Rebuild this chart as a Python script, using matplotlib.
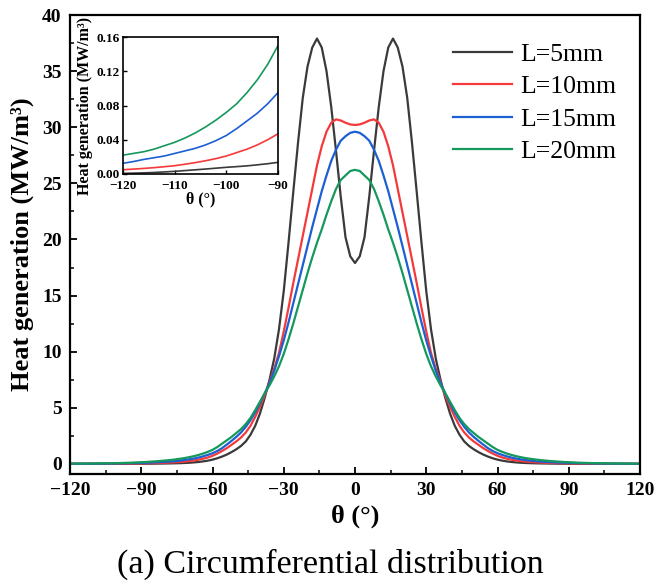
import matplotlib
matplotlib.use("Agg")
import matplotlib.pyplot as plt
from matplotlib.ticker import MultipleLocator, FormatStrFormatter
import numpy as np

plt.rcParams['font.family'] = ['Liberation Serif', 'DejaVu Serif']

# sample grid, 0..120 deg (curves are symmetric about 0)
theta_half = np.arange(0, 121, 2)

# heat generation (MW/m3), theta = 0, 2, ..., 120
q_L5 = [17.9, 18.5, 20.2, 23.8, 27.9, 31.8, 35.0, 37.1, 37.9, 37.1,
        35.4, 32.6, 28.6, 24.2, 19.7, 15.4, 12.0, 9.4, 7.5, 5.9,
        4.5, 3.4, 2.6, 2.0, 1.6, 1.3, 1.05, 0.83, 0.65, 0.5,
        0.38, 0.29, 0.22, 0.17, 0.13, 0.10, 0.08, 0.065, 0.053, 0.043,
        0.036, 0.030, 0.025, 0.020, 0.017, 0.0136, 0.0120, 0.0107, 0.0095, 0.0086,
        0.0078, 0.0068, 0.0058, 0.0049, 0.0040, 0.0031, 0.0024, 0.0018, 0.0013, 0.0010,
        0.0007]
q_L10 = [30.2, 30.25, 30.4, 30.6, 30.7, 30.4, 29.6, 28.3, 26.6, 24.5,
         22.4, 20.3, 18.2, 16.1, 13.9, 11.8, 9.9, 8.5, 7.3, 6.1,
         5.1, 4.2, 3.4, 2.8, 2.35, 2.0, 1.7, 1.4, 1.15, 0.92,
         0.72, 0.57, 0.46, 0.37, 0.30, 0.25, 0.20, 0.17, 0.14, 0.12,
         0.10, 0.087, 0.075, 0.064, 0.055, 0.047, 0.040, 0.034, 0.029, 0.025,
         0.021, 0.018, 0.0155, 0.0133, 0.0114, 0.0097, 0.0085, 0.0074, 0.0065, 0.0057,
         0.005]
q_L15 = [29.6, 29.5, 29.2, 28.8, 28.0, 27.0, 25.7, 24.3, 22.7, 21.1,
         19.4, 17.7, 16.0, 14.3, 12.6, 11.0, 9.6, 8.3, 7.2, 6.3,
         5.4, 4.6, 3.9, 3.3, 2.8, 2.4, 2.05, 1.72, 1.4, 1.15,
         0.95, 0.8, 0.67, 0.56, 0.47, 0.40, 0.34, 0.29, 0.24, 0.21,
         0.18, 0.16, 0.14, 0.12, 0.107, 0.095, 0.082, 0.071, 0.062, 0.053,
         0.045, 0.039, 0.034, 0.030, 0.027, 0.024, 0.021, 0.019, 0.017, 0.0145,
         0.0125]
q_L20 = [26.2, 26.1, 25.7, 25.3, 24.5, 23.4, 22.2, 20.9, 19.7, 18.4,
         17.0, 15.5, 14.0, 12.5, 11.1, 9.8, 8.7, 7.8, 7.0, 6.3,
         5.55, 4.8, 4.1, 3.55, 3.1, 2.75, 2.4, 2.1, 1.8, 1.5,
         1.25, 1.07, 0.92, 0.79, 0.68, 0.59, 0.51, 0.45, 0.39, 0.34,
         0.30, 0.26, 0.23, 0.20, 0.17, 0.150, 0.128, 0.110, 0.095, 0.082,
         0.072, 0.063, 0.055, 0.048, 0.042, 0.037, 0.033, 0.029, 0.026, 0.024,
         0.022]

labels = ['L=5mm', 'L=10mm', 'L=15mm', 'L=20mm']
colors = ['#3a3a3a', '#f5393b', '#1b5fd2', '#14985c']
series = [q_L5, q_L10, q_L15, q_L20]


def full(half):
    half = np.asarray(half, dtype=float)
    return np.concatenate([half[::-1], half[1:]])


theta = np.concatenate([-theta_half[::-1], theta_half[1:]])

fig = plt.figure(figsize=(6.56, 5.88), dpi=100)
ax = fig.add_axes([70/656, 1-474/588, 570/656, 459/588])

for q, c, lab in zip(series, colors, labels):
    ax.plot(theta, full(q), color=c, lw=1.6, label=lab, solid_joinstyle='round')

ax.set_xlim(-120, 120)
ax.set_ylim(-0.9, 40)
ax.xaxis.set_major_locator(MultipleLocator(30))
ax.xaxis.set_minor_locator(MultipleLocator(15))
ax.yaxis.set_major_locator(MultipleLocator(5))
ax.yaxis.set_minor_locator(MultipleLocator(2.5))
ax.tick_params(which='both', direction='in', top=False, right=False)
ax.tick_params(which='major', length=5, width=1.3, labelsize=14, pad=6)
ax.tick_params(which='minor', length=3, width=1.1)
for lb in ax.get_xticklabels() + ax.get_yticklabels():
    lb.set_fontweight('bold')
for s in ax.spines.values():
    s.set_linewidth(1.6)

ax.set_xlabel('θ (°)', fontsize=19, fontweight='bold', labelpad=4)
ax.set_ylabel('Heat generation (MW/m³)', fontsize=19, fontweight='bold', labelpad=6)

ax.legend(loc='upper left', bbox_to_anchor=(0.672, 0.94), frameon=False,
          fontsize=18.5, handlelength=2.3, handletextpad=0.3, labelspacing=0.37,
          borderpad=0, borderaxespad=0)

# inset
axin = fig.add_axes([123/656, 1-174/588, 155/656, 137/588])
for q, c in zip(series, colors):
    axin.plot(theta, full(q), color=c, lw=1.2)
axin.set_xlim(-120, -90)
axin.set_ylim(0, 0.16)
axin.xaxis.set_major_locator(MultipleLocator(10))
axin.yaxis.set_major_locator(MultipleLocator(0.04))
axin.yaxis.set_major_formatter(FormatStrFormatter('%.2f'))
axin.tick_params(which='both', direction='in', top=False, right=False,
                 length=3, width=1.0, labelsize=9.5, pad=2)
axin.tick_params(axis='x', pad=4)
for lb in axin.get_xticklabels() + axin.get_yticklabels():
    lb.set_fontweight('bold')
for s in axin.spines.values():
    s.set_linewidth(1.2)
axin.set_xlabel('θ (°)', fontsize=11.5, fontweight='bold', labelpad=0)
axin.set_ylabel('Heat generation (MW/m³)', fontsize=11.5, fontweight='bold', labelpad=3)

fig.text(0.503, 0.04, '(a) Circumferential distribution', fontsize=24.5,
         ha='center', va='center')

fig.savefig('out.png', dpi=100)
